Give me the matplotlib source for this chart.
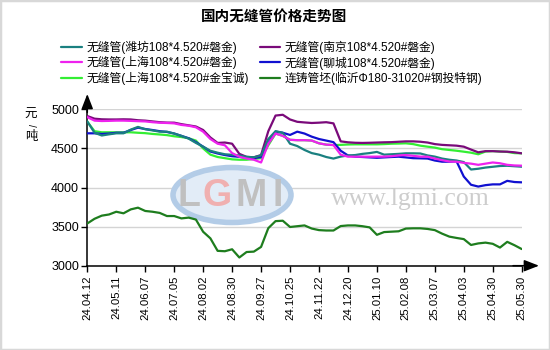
import matplotlib
matplotlib.use("Agg")
import matplotlib.pyplot as plt
from matplotlib.patches import Ellipse, Rectangle

plt.rcParams['font.family'] = ['Liberation Sans', 'Noto Sans CJK SC', 'DejaVu Sans']

# ---- data ----
tick_labels = ["24.04.12", "24.05.11", "24.06.07", "24.07.05", "24.08.02", "24.08.30",
               "24.09.27", "24.10.25", "24.11.22", "24.12.20", "25.01.10", "25.02.08",
               "25.03.07", "25.04.03", "25.04.30", "25.05.30"]

series_names = ["无缝管(潍坊108*4.520#磐金)",
                "无缝管(上海108*4.520#磐金)",
                "无缝管(上海108*4.520#金宝诚)",
                "无缝管(南京108*4.520#磐金)",
                "无缝管(聊城108*4.520#磐金)",
                "连铸管坯(临沂Φ180-31020#钢投特钢)"]

weifang = [4845, 4700, 4665, 4680, 4693, 4693, 4740, 4775, 4745, 4730,
           4714, 4714, 4690, 4660, 4625, 4570, 4522, 4470, 4445, 4425,
           4418, 4410, 4392, 4386, 4410, 4620, 4720, 4700, 4560, 4530,
           4480, 4440, 4420, 4390, 4370, 4395, 4410, 4415, 4430, 4440,
           4455, 4420, 4425, 4430, 4437, 4437, 4435, 4410, 4395, 4370,
           4355, 4345, 4325, 4230, 4240, 4255, 4265, 4275, 4278, 4272, 4266]

shanghai_pj = [4900, 4855, 4850, 4852, 4855, 4855, 4852, 4848, 4845, 4835,
               4828, 4825, 4820, 4800, 4790, 4770, 4714, 4620, 4560, 4540,
               4440, 4394, 4370, 4355, 4320, 4560, 4690, 4660, 4610, 4605,
               4605, 4600, 4565, 4548, 4543, 4420, 4394, 4394, 4394, 4394,
               4395, 4395, 4400, 4410, 4415, 4405, 4395, 4394, 4370, 4350,
               4332, 4330, 4315, 4305, 4290, 4305, 4320, 4310, 4290, 4282, 4279]

shanghai_jbc = [4841, 4720, 4706, 4706, 4706, 4706, 4706, 4700, 4695, 4685,
                4678, 4670, 4655, 4645, 4630, 4600, 4500, 4420, 4390, 4375,
                4360, 4355, 4355, 4365, 4375, 4540, 4690, 4660, 4610, 4605,
                4605, 4600, 4565, 4548, 4543, 4545, 4550, 4552, 4552, 4552,
                4552, 4555, 4560, 4562, 4565, 4555, 4535, 4522, 4510, 4490,
                4480, 4470, 4458, 4445, 4425, 4460, 4465, 4460, 4455, 4440, 4437]

nanjing = [4914, 4880, 4872, 4870, 4870, 4872, 4870, 4860, 4855, 4845,
           4835, 4830, 4829, 4810, 4795, 4780, 4735, 4640, 4570, 4575,
           4560, 4430, 4392, 4386, 4415, 4720, 4920, 4930, 4870, 4840,
           4832, 4825, 4829, 4835, 4820, 4590, 4578, 4572, 4570, 4572,
           4575, 4578, 4580, 4585, 4590, 4590, 4585, 4575, 4555, 4545,
           4540, 4535, 4522, 4485, 4450, 4465, 4465, 4460, 4458, 4450, 4437]

liaocheng = [4693, 4693, 4685, 4690, 4700, 4700, 4735, 4765, 4748, 4735,
             4720, 4710, 4690, 4660, 4630, 4580, 4522, 4460, 4435, 4415,
             4400, 4392, 4380, 4375, 4390, 4570, 4715, 4700, 4672, 4714,
             4690, 4650, 4620, 4600, 4580, 4470, 4410, 4394, 4390, 4385,
             4380, 4385, 4390, 4394, 4385, 4375, 4373, 4370, 4345, 4330,
             4330, 4335, 4140, 4035, 4012, 4030, 4040, 4040, 4085, 4070, 4066]

billet = [3540, 3600, 3640, 3655, 3690, 3670, 3720, 3742, 3700, 3690,
          3675, 3635, 3635, 3605, 3615, 3590, 3434, 3350, 3190, 3185,
          3210, 3105, 3175, 3180, 3240, 3480, 3570, 3575, 3495, 3505,
          3515, 3475, 3455, 3450, 3450, 3507, 3515, 3515, 3505, 3490,
          3395, 3430, 3435, 3440, 3475, 3478, 3478, 3470, 3455, 3410,
          3372, 3355, 3340, 3265, 3285, 3295, 3280, 3232, 3305, 3262, 3213]

all_series = [weifang, shanghai_pj, shanghai_jbc, nanjing, liaocheng, billet]
colors = ["#1a8080", "#ee22ee", "#33ee33", "#7a0a7a", "#1010d0", "#1e7d1e"]
zorders = [3.4, 3.6, 2.5, 3.3, 3.2, 3.0]

W, H = 550, 350
fig = plt.figure(figsize=(5.5, 3.5), dpi=100)
fig.patch.set_facecolor("white")

x_left, x_right, y_top, y_bot = 87.3, 521.7, 109.3, 265.7
ax = fig.add_axes([x_left / W, 1 - y_bot / H, (x_right - x_left) / W, (y_bot - y_top) / H])
ax.set_facecolor("none")

xs = list(range(len(billet)))
handles = []
for vals, c, z, name in zip(all_series, colors, zorders, series_names):
    ln, = ax.plot(xs, vals, color=c, lw=1.6, zorder=z, label=name,
                  solid_joinstyle="round", solid_capstyle="round")
    handles.append(ln)

ax.set_xlim(0, len(billet) - 1)
ax.set_ylim(3000, 5000)
ax.set_yticks([3000, 3500, 4000, 4500, 5000])
ax.set_xticks(range(0, len(billet), 4))
ax.set_xticklabels(tick_labels, rotation=90, fontsize=8.2)
ax.tick_params(axis="y", labelsize=9, length=4, width=1, direction="out", pad=2)
ax.tick_params(axis="x", length=4, width=1, direction="out", pad=3)
ax.grid(axis="y", color="#d4d4d4", lw=1)
ax.set_axisbelow(True)
for s in ["top", "right"]:
    ax.spines[s].set_visible(False)
for s in ["left", "bottom"]:
    ax.spines[s].set_linewidth(1.1)
    ax.spines[s].set_color("black")

# arrow heads on the axes
ax.annotate("", xy=(0, (y_bot - 94) / (y_bot - y_top)), xytext=(0, 0.98),
            xycoords="axes fraction",
            arrowprops=dict(arrowstyle="-|>,head_length=0.9,head_width=0.35",
                            color="black", lw=1.1, shrinkA=0, shrinkB=0))
ax.annotate("", xy=((539 - x_left) / (x_right - x_left), 0), xytext=(0.98, 0),
            xycoords="axes fraction",
            arrowprops=dict(arrowstyle="-|>,head_length=0.9,head_width=0.35",
                            color="black", lw=1.1, shrinkA=0, shrinkB=0))

# watermark logo
tf = fig.transFigure
ax.add_patch(Ellipse((232 / W, 1 - 195 / H), 118 / W, 55 / H, transform=tf,
                     facecolor="#e2ecf7", edgecolor="#b3cce7", lw=4, zorder=0.6,
                     clip_on=False))
for ch, cx, col in [("L", 189, "#c0c0c0"), ("G", 217, "#f0b0b0"),
                    ("M", 251, "#c0c0c0"), ("I", 278, "#c0c0c0")]:
    ax.text(cx / W, 1 - 196 / H, ch, transform=tf, ha="center", va="center",
            fontsize=27, fontweight="bold", color=col, zorder=0.7,
            family=["Liberation Sans"])
ax.text(410 / W, 1 - 205 / H, "www.lgmi.com", transform=tf, ha="center",
        va="baseline", fontsize=18.5, color="#cdcdcd", zorder=0.7,
        family=["Liberation Serif", "DejaVu Serif"])

# title, unit label, legend
fig.text(274 / W, 1 - 17.5 / H, "国内无缝管价格走势图", ha="center", va="center",
         fontsize=10.5, fontweight="bold")
fig.text(31 / W, 1 - 115 / H, "元", ha="center", va="center", fontsize=9)
fig.text(31 / W, 1 - 125 / H, "/", ha="center", va="center", fontsize=7, rotation=-90)
fig.text(31 / W, 1 - 137 / H, "吨", ha="center", va="center", fontsize=9)

fig.legend(handles=handles, labels=series_names, ncol=2, frameon=False,
           loc="upper left", bbox_to_anchor=(61 / W, 1 - 41 / H),
           fontsize=8.5, handlelength=1.75, handletextpad=0.4,
           columnspacing=0.9, labelspacing=0.18, borderpad=0, borderaxespad=0)

fig.add_artist(Rectangle((0, 0), 1, 1, transform=tf, fill=False,
                         edgecolor="#d8d8d8", lw=2.5))

fig.savefig("out.png", dpi=100)
